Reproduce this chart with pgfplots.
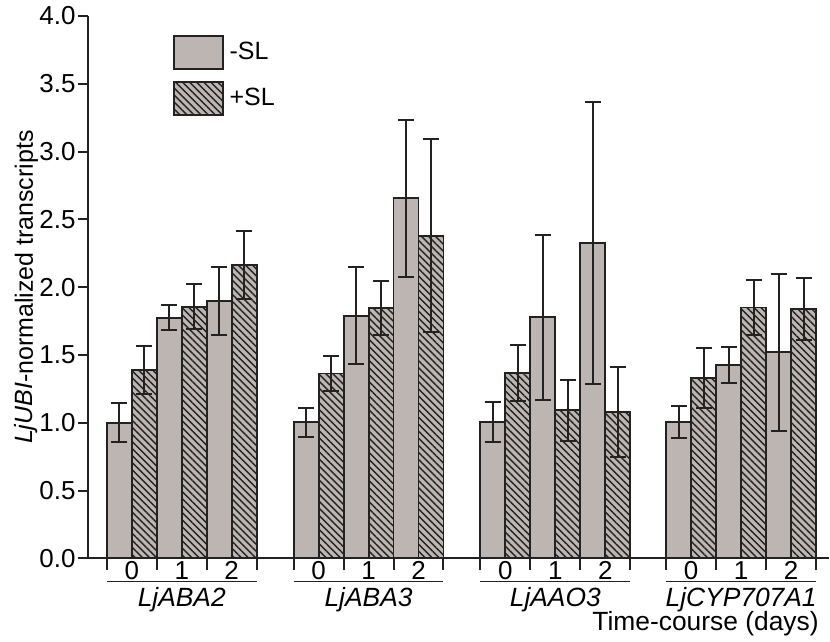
\documentclass[border=0pt]{standalone}
\usepackage{fontspec}
\setmainfont{Liberation Sans}
\usepackage{pgfplots}
\usepackage{pgfplotstable}
\pgfplotsset{compat=1.18}
\usetikzlibrary{patterns.meta}
\definecolor{barfill}{RGB}{188,181,178}
\definecolor{ink}{RGB}{34,34,34}
\newcommand{\lbl}{\fontsize{12.5}{15}\selectfont}
\newcommand{\tlbl}{\fontsize{13}{15}\selectfont}
\newcommand{\glbl}{\fontsize{13.2}{15}\selectfont}

% -SL : day 0, 1, 2 for each gene (x in axis units)
\pgfplotstableread{
x     y      e
31.5  1.000  0.145
81.5  1.775  0.090
131.5 1.900  0.250
218.5 1.005  0.107
268.5 1.790  0.360
318.5 2.655  0.580
405.5 1.005  0.150
455.5 1.778  0.610
505.5 2.325  1.040
591.5 1.005  0.115
641.5 1.425  0.130
691.5 1.520  0.580
}\minusSL

% +SL
\pgfplotstableread{
x     y      e
56.5  1.388  0.175
106.5 1.855  0.165
156.5 2.162  0.250
243.5 1.363  0.130
293.5 1.845  0.200
343.5 2.380  0.710
430.5 1.366  0.205
480.5 1.093  0.225
530.5 1.078  0.330
616.5 1.330  0.220
666.5 1.850  0.205
716.5 1.840  0.230
}\plusSL

\begin{document}
\begin{tikzpicture}
\begin{axis}[
  at={(0,0)}, anchor=south west,
  scale only axis, width=371pt, height=271.5pt,
  xmin=0, xmax=742, ymin=0, ymax=4,
  axis x line*=bottom, axis y line*=left,
  axis line style={ink, line width=1pt},
  xtick=\empty,
  ytick={0,0.5,1,1.5,2,2.5,3,3.5,4},
  tick align=outside, major tick length=5pt,
  tick style={ink, line width=1pt},
  yticklabel style={font=\tlbl, inner sep=0pt, xshift=-1pt, /pgf/number format/.cd, fixed, fixed zerofill, precision=1},
  /pgf/number format/assume math mode=true,
  clip=false,
  legend style={at={(axis cs:85,3.861)}, anchor=north west, draw=none, fill=none,
    inner sep=0pt, outer sep=0pt, row sep=5.5pt, font=\lbl,
    nodes={inner sep=0pt}},
  legend cell align=left,
  legend image code/.code={\draw[#1] (0pt,-8.25pt) rectangle (24.5pt,8.25pt); \path (27.5pt,0pt);},
]
\addlegendimage{fill=barfill, draw=ink, line width=0.95pt}
\addlegendentry{-SL}
\addlegendimage{fill=barfill, draw=ink, line width=0.95pt, postaction={pattern={Lines[angle=-45,distance=2.5pt,line width=0.7pt]}, pattern color=ink}}
\addlegendentry{+SL}

\addplot[ybar, bar shift=0pt, bar width=25, fill=barfill, draw=ink, line width=0.95pt, forget plot]
  table[x=x, y=y] {\minusSL};
\addplot[ybar, bar shift=0pt, bar width=25, fill=barfill, draw=ink, line width=0.95pt, forget plot,
  postaction={pattern={Lines[angle=-45,distance=2.5pt,line width=0.7pt]}, pattern color=ink}]
  table[x=x, y=y] {\plusSL};

\addplot[draw=none, mark=none, forget plot,
  error bars/.cd, y dir=both, y explicit,
  error bar style={draw=ink, line width=1pt},
  error mark options={rotate=90, mark size=4pt, draw=ink, line width=1pt}]
  table[x=x, y=y, y error=e] {\minusSL};
\addplot[draw=none, mark=none, forget plot,
  error bars/.cd, y dir=both, y explicit,
  error bar style={draw=ink, line width=1pt},
  error mark options={rotate=90, mark size=4pt, draw=ink, line width=1pt}]
  table[x=x, y=y, y error=e] {\plusSL};

\pgfplotsinvokeforeach{19,206,393,579}{
  \draw[ink, line width=1pt] (axis cs:#1,0) -- ++(0,-6pt);
  \draw[ink, line width=1pt] (axis cs:#1+50,0) -- ++(0,-6pt);
  \draw[ink, line width=1pt] (axis cs:#1+100,0) -- ++(0,-6pt);
  \draw[ink, line width=1pt] (axis cs:#1+150,0) -- ++(0,-6pt);
  \draw[ink, line width=0.7pt] (axis cs:#1,0) ++(0,-11.6pt) -- ++(75pt,0);
  \node[anchor=base, font=\tlbl, inner sep=0pt, yshift=-10.8pt] at (axis cs:#1+25,0) {0};
  \node[anchor=base, font=\tlbl, inner sep=0pt, yshift=-10.8pt] at (axis cs:#1+75,0) {1};
  \node[anchor=base, font=\tlbl, inner sep=0pt, yshift=-10.8pt] at (axis cs:#1+125,0) {2};
}
\node[anchor=base, font=\glbl\itshape, inner sep=0pt, yshift=-24pt] at (axis cs:94,0) {LjABA2};
\node[anchor=base, font=\glbl\itshape, inner sep=0pt, yshift=-24pt] at (axis cs:281,0) {LjABA3};
\node[anchor=base, font=\glbl\itshape, inner sep=0pt, yshift=-24pt] at (axis cs:468,0) {LjAAO3};
\node[anchor=base, font=\glbl\itshape, inner sep=0pt, yshift=-24pt] at (axis cs:654,0) {LjCYP707A1};
\node[anchor=base east, font=\glbl, inner sep=0pt, yshift=-36pt] at (axis cs:732,0) {Time-course (days)};
\node[anchor=base, rotate=90, font=\lbl, inner sep=0pt] at (axis cs:-55,2.0) {\textit{LjUBI}-normalized transcripts};
\end{axis}
\path (-44pt,-41.5pt) rectangle (371pt,279.5pt);
\end{tikzpicture}
\end{document}
